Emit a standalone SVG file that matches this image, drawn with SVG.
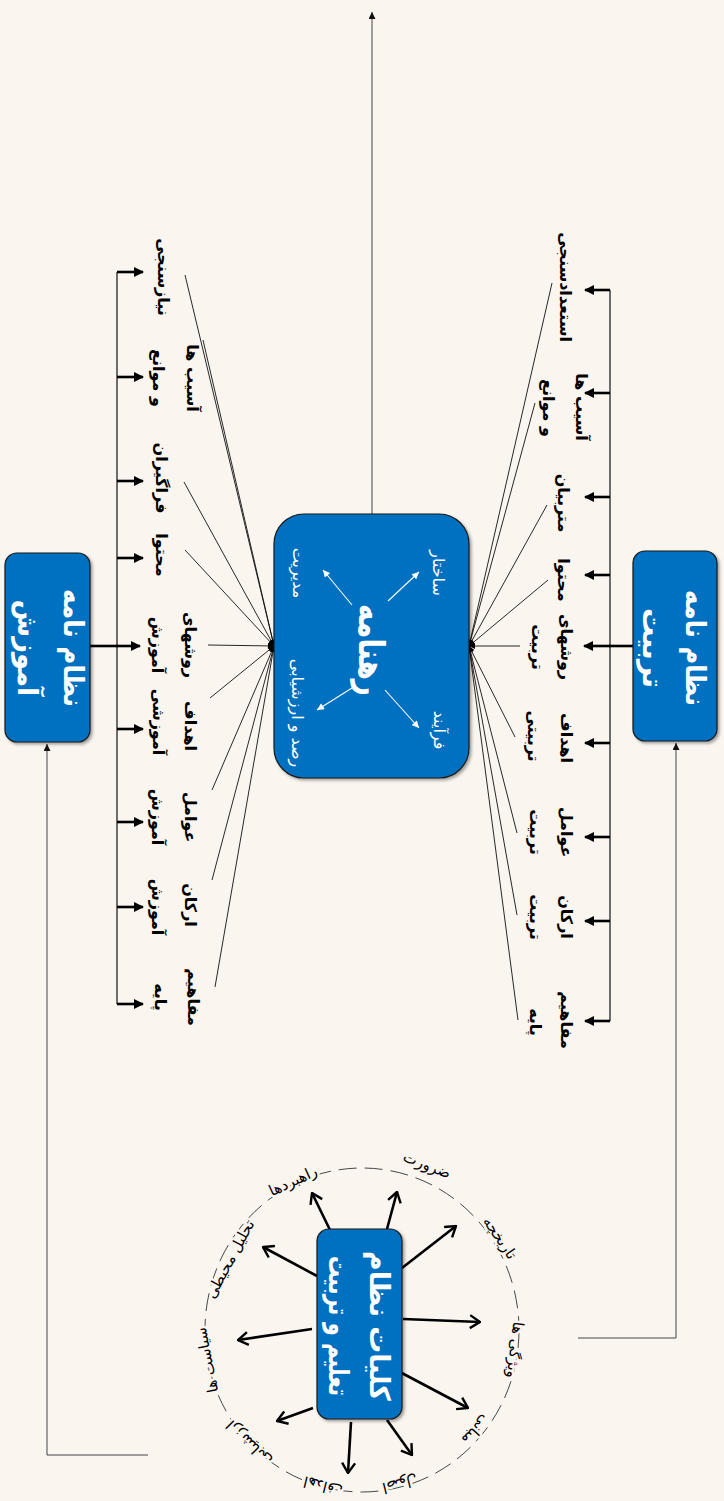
<svg xmlns="http://www.w3.org/2000/svg" width="724" height="1501" viewBox="0 0 724 1501">
<style>
.bg{fill:#FAF5EF}
.box{fill:#0070C0;stroke:#1a1a1a;stroke-width:1.2;filter:url(#sh)}
.t{font-family:'DejaVu Sans',sans-serif;font-weight:bold;text-anchor:middle;dominant-baseline:central}
.lbl{font-size:16px;fill:#000}
.bt{font-size:28px;fill:#fff}
.ct{font-size:16px;fill:#fff;font-weight:normal}
.cl{font-size:15px;fill:#000;font-weight:normal;stroke:#FAF5EF;stroke-width:5px;paint-order:stroke;stroke-linejoin:round}
.bus{stroke:#222;stroke-width:1.3;fill:none}
.stub{stroke:#000;stroke-width:2.6;fill:none;marker-end:url(#ah)}
.fan{stroke:#111;stroke-width:0.9;fill:none}
.thin{stroke:#444;stroke-width:1;fill:none}
.rad{stroke:#000;stroke-width:2.6;fill:none;marker-end:url(#oa)}
.wl{stroke:#fff;stroke-width:1.1;fill:none;marker-end:url(#wa)}
</style>
<defs>
<filter id="sh" x="-20%" y="-20%" width="140%" height="140%"><feDropShadow dx="2" dy="2" stdDeviation="1.5" flood-color="#000" flood-opacity="0.35"/></filter>
<marker id="ah" viewBox="0 0 10 10" refX="9" refY="5" markerWidth="11" markerHeight="10" markerUnits="userSpaceOnUse" orient="auto"><path d="M0,0 L10,5 L0,10 z" fill="#000"/></marker>
<marker id="sa" viewBox="0 0 10 10" refX="10" refY="5" markerWidth="8" markerHeight="7" markerUnits="userSpaceOnUse" orient="auto"><path d="M0,0 L10,5 L0,10 z" fill="#111"/></marker>
<marker id="fa" viewBox="0 0 10 10" refX="10" refY="5" markerWidth="7" markerHeight="6" markerUnits="userSpaceOnUse" orient="auto"><path d="M0,0 L10,5 L0,10 z" fill="#000"/></marker>
<marker id="wa" viewBox="0 0 10 10" refX="10" refY="5" markerWidth="8" markerHeight="7" markerUnits="userSpaceOnUse" orient="auto"><path d="M0,0 L10,5 L0,10 z" fill="#fff"/></marker>
<marker id="oa" viewBox="0 0 12 16" refX="11" refY="8" markerWidth="12" markerHeight="16" markerUnits="userSpaceOnUse" orient="auto"><path d="M1,1.5 L11,8 L1,14.5" fill="none" stroke="#000" stroke-width="2.4"/></marker>
</defs>
<rect class="bg" x="0" y="0" width="724" height="1501"/>

<g id="connectors">
  <line class="thin" x1="372" y1="514" x2="372" y2="12" marker-end="url(#sa)"/>
  <line class="bus" x1="117" y1="272" x2="117" y2="1004"/>
  <line x1="90" y1="646" x2="118" y2="646" stroke="#000" stroke-width="2.6"/>
  <line class="stub" x1="117" y1="272" x2="143" y2="272"/>
  <line class="stub" x1="117" y1="377" x2="143" y2="377"/>
  <line class="stub" x1="117" y1="481" x2="143" y2="481"/>
  <line class="stub" x1="117" y1="558" x2="143" y2="558"/>
  <line class="stub" x1="117" y1="646" x2="140" y2="646"/>
  <line class="stub" x1="117" y1="729" x2="143" y2="729"/>
  <line class="stub" x1="117" y1="822" x2="143" y2="822"/>
  <line class="stub" x1="117" y1="907" x2="143" y2="907"/>
  <line class="stub" x1="117" y1="1004" x2="143" y2="1004"/>
  <line class="bus" x1="610" y1="290" x2="610" y2="1021"/>
  <line x1="633" y1="646" x2="609" y2="646" stroke="#000" stroke-width="2.6"/>
  <line class="stub" x1="610" y1="290" x2="585" y2="290"/>
  <line class="stub" x1="610" y1="393" x2="585" y2="393"/>
  <line class="stub" x1="610" y1="497" x2="585" y2="497"/>
  <line class="stub" x1="610" y1="575" x2="585" y2="575"/>
  <line class="stub" x1="610" y1="646" x2="584" y2="646"/>
  <line class="stub" x1="610" y1="743" x2="585" y2="743"/>
  <line class="stub" x1="610" y1="837" x2="585" y2="837"/>
  <line class="stub" x1="610" y1="921" x2="585" y2="921"/>
  <line class="stub" x1="610" y1="1021" x2="585" y2="1021"/>
  <g class="fan" marker-end="url(#fa)">
    <line x1="185" y1="275" x2="274" y2="646"/>
    <line x1="203" y1="340" x2="274" y2="646"/>
    <line x1="184" y1="482" x2="274" y2="646"/>
    <line x1="185" y1="550" x2="274" y2="646"/>
    <line x1="208" y1="645" x2="274" y2="646"/>
    <line x1="210" y1="698" x2="274" y2="646"/>
    <line x1="212" y1="790" x2="274" y2="646"/>
    <line x1="212" y1="880" x2="274" y2="646"/>
    <line x1="215" y1="987" x2="274" y2="646"/>
  </g>
  <g class="fan" marker-end="url(#fa)">
    <line x1="552" y1="283" x2="469" y2="646"/>
    <line x1="535" y1="403" x2="469" y2="646"/>
    <line x1="547" y1="505" x2="469" y2="646"/>
    <line x1="548" y1="580" x2="469" y2="646"/>
    <line x1="520" y1="646" x2="469" y2="646"/>
    <line x1="515" y1="737" x2="469" y2="646"/>
    <line x1="517" y1="833" x2="469" y2="646"/>
    <line x1="517" y1="915" x2="469" y2="646"/>
    <line x1="518" y1="1020" x2="469" y2="646"/>
  </g>
  <polyline class="thin" points="148,1455 47,1455 47,744" marker-end="url(#sa)"/>
  <polyline class="thin" points="578,1338 676,1338 676,743" marker-end="url(#sa)"/>
  <ellipse cx="362" cy="1330" rx="157" ry="162" fill="none" stroke="#333" stroke-width="0.9" stroke-dasharray="18 8"/>
  <line class="rad" x1="330" y1="1230" x2="312" y2="1193"/>
  <line class="rad" x1="387" y1="1229" x2="397" y2="1192"/>
  <line class="rad" x1="402" y1="1268" x2="456" y2="1226"/>
  <line class="rad" x1="403" y1="1319" x2="480" y2="1322"/>
  <line class="rad" x1="398" y1="1371" x2="468" y2="1408"/>
  <line class="rad" x1="387" y1="1420" x2="412" y2="1455"/>
  <line class="rad" x1="351" y1="1422" x2="348" y2="1473"/>
  <line class="rad" x1="313" y1="1408" x2="277" y2="1421"/>
  <line class="rad" x1="312" y1="1329" x2="238" y2="1340"/>
  <line class="rad" x1="317" y1="1276" x2="263" y2="1247"/>
</g>

<g id="node-amoozesh">
  <rect class="box" x="5" y="553" width="85" height="189" rx="12"/>
  <text class="t bt" transform="translate(73,648) rotate(90)" textLength="118" lengthAdjust="spacingAndGlyphs">نظام نامه</text>
  <text class="t bt" transform="translate(27,648) rotate(90)" textLength="97" lengthAdjust="spacingAndGlyphs">آموزش</text>
</g>
<g id="node-tarbiat">
  <rect class="box" x="633" y="551" width="84" height="190" rx="12"/>
  <text class="t bt" transform="translate(695,648) rotate(90)" textLength="116" lengthAdjust="spacingAndGlyphs">نظام نامه</text>
  <text class="t bt" transform="translate(652,648) rotate(90)" textLength="80" lengthAdjust="spacingAndGlyphs">تربیت</text>
</g>
<g id="node-rahnameh">
  <rect class="box" x="274" y="514" width="195" height="264" rx="30"/>
  <text class="t" font-size="36" fill="#fff" transform="translate(371,650) rotate(90)" textLength="92" lengthAdjust="spacingAndGlyphs">رهنامه</text>
  <text class="t ct" transform="translate(438,573) rotate(90)">ساختار</text>
  <text class="t ct" transform="translate(298,573) rotate(90)">مدیریت</text>
  <text class="t ct" transform="translate(439,730) rotate(90)">فرآیند</text>
  <text class="t ct" transform="translate(297,713) rotate(90)">رصد و ارزشیابی</text>
  <line class="wl" x1="388" y1="601" x2="419" y2="572"/>
  <line class="wl" x1="352" y1="605" x2="323" y2="570"/>
  <line class="wl" x1="385" y1="690" x2="419" y2="728"/>
  <line class="wl" x1="352" y1="688" x2="317" y2="710"/>
</g>
<g id="node-koliat">
  <rect class="box" x="317" y="1229" width="85" height="190" rx="12"/>
  <text class="t bt" transform="translate(379,1326) rotate(90)" textLength="150" lengthAdjust="spacingAndGlyphs">کلیات نظام</text>
  <text class="t bt" font-size="26" transform="translate(338,1326) rotate(90)" textLength="140" lengthAdjust="spacingAndGlyphs">تعلیم و تربیت</text>
</g>

<g id="labels-left">
  <text class="t lbl" transform="translate(163,277) rotate(90)">نیازسنجی</text>
  <text class="t lbl" transform="translate(192,378) rotate(90)">آسیب ها</text>
  <text class="t lbl" transform="translate(158,378) rotate(90)">و موانع</text>
  <text class="t lbl" transform="translate(161,478) rotate(90)">فراگیران</text>
  <text class="t lbl" transform="translate(161,555) rotate(90)">محتوا</text>
  <text class="t lbl" transform="translate(190,645) rotate(90)">روشهای</text>
  <text class="t lbl" transform="translate(157,645) rotate(90)">آموزش</text>
  <text class="t lbl" transform="translate(190,726) rotate(90)">اهداف</text>
  <text class="t lbl" transform="translate(158,722) rotate(90)">آموزشی</text>
  <text class="t lbl" transform="translate(190,817) rotate(90)">عوامل</text>
  <text class="t lbl" transform="translate(157,817) rotate(90)">آموزش</text>
  <text class="t lbl" transform="translate(190,905) rotate(90)">ارکان</text>
  <text class="t lbl" transform="translate(157,907) rotate(90)">آموزش</text>
  <text class="t lbl" transform="translate(193,997) rotate(90)">مفاهیم</text>
  <text class="t lbl" transform="translate(160,997) rotate(90)">پایه</text>
</g>
<g id="labels-right">
  <text class="t lbl" transform="translate(565,287) rotate(90)">استعدادسنجی</text>
  <text class="t lbl" transform="translate(581,407) rotate(90)">آسیب ها</text>
  <text class="t lbl" transform="translate(548,408) rotate(90)">و موانع</text>
  <text class="t lbl" transform="translate(563,503) rotate(90)">متربیان</text>
  <text class="t lbl" transform="translate(563,580) rotate(90)">محتوا</text>
  <text class="t lbl" transform="translate(566,647) rotate(90)">روشهای</text>
  <text class="t lbl" transform="translate(537,647) rotate(90)">تربیت</text>
  <text class="t lbl" transform="translate(566,738) rotate(90)">اهداف</text>
  <text class="t lbl" transform="translate(533,736) rotate(90)">تربیتی</text>
  <text class="t lbl" transform="translate(566,832) rotate(90)">عوامل</text>
  <text class="t lbl" transform="translate(535,832) rotate(90)">تربیت</text>
  <text class="t lbl" transform="translate(566,917) rotate(90)">ارکان</text>
  <text class="t lbl" transform="translate(535,917) rotate(90)">تربیت</text>
  <text class="t lbl" transform="translate(566,1020) rotate(90)">مفاهیم</text>
  <text class="t lbl" transform="translate(535,1022) rotate(90)">پایه</text>
</g>
<g id="labels-circle">
  <text class="t cl" transform="translate(427,1165) rotate(21.5)">ضرورت</text>
  <text class="t cl" transform="translate(500,1238) rotate(56)">تاریخچه</text>
  <text class="t cl" transform="translate(515,1350) rotate(97)">ویژگی ها</text>
  <text class="t cl" transform="translate(476,1430) rotate(132)">مبانی</text>
  <text class="t cl" transform="translate(400,1484) rotate(166)">اصول</text>
  <text class="t cl" transform="translate(323,1486) rotate(194)">اهداف</text>
  <text class="t cl" transform="translate(249,1443) rotate(225)">ارزشیابی</text>
  <text class="t cl" transform="translate(207,1360) rotate(259)">سیاست ها</text>
  <text class="t cl" transform="translate(230,1259) rotate(-61.7)">تحلیل محیطی</text>
  <text class="t cl" transform="translate(293,1181) rotate(-24.8)">راهبردها</text>
</g>
</svg>
